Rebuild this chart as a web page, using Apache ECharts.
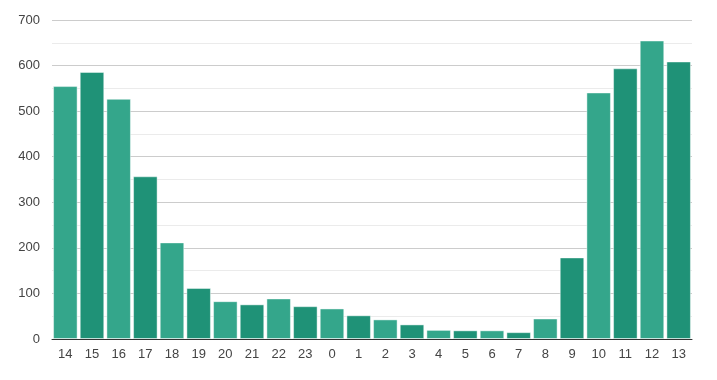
<!DOCTYPE html>
<html><head><meta charset="utf-8">
<script src="https://cdn.jsdelivr.net/npm/echarts@6/dist/echarts.min.js"></script>
<style>html,body{margin:0;padding:0;background:#fff}#c{width:717px;height:380px}</style>
</head><body><div id="c"></div>
<script>
var categories = ['14','15','16','17','18','19','20','21','22','23','0','1','2','3','4','5','6','7','8','9','10','11','12','13'];
var values = [555,586,527,357,212,112,83,76,89,72,67,52,43,32,20,19,19,15,45,179,541,594,655,609];
var colors = ['#34a68b','#1f9277'];
var chart = echarts.init(document.getElementById('c'));
chart.setOption({
  animation:false,
  grid:{left:52,right:25,top:20,bottom:41},
  xAxis:{type:'category',data:categories,
    axisLine:{lineStyle:{color:'#333',width:1}},axisTick:{show:false},
    axisLabel:{color:'#444',fontSize:13,fontFamily:'Arial, Liberation Sans',margin:9}},
  yAxis:{type:'value',min:0,max:700,interval:100,
    axisLine:{show:false},axisTick:{show:false},
    axisLabel:{color:'#444',fontSize:13,fontFamily:'Arial, Liberation Sans',margin:12},
    splitLine:{lineStyle:{color:'#ccc'}},
    minorTick:{show:false,splitNumber:2},
    minorSplitLine:{show:true,lineStyle:{color:'#ebebeb'}}},
  series:[{type:'bar',barCategoryGap:'8%',
    data:values.map(function(v,i){return {value:v,itemStyle:{color:colors[i%2]}};}),
    itemStyle:{borderColor:'rgba(255,255,255,0.45)',borderWidth:1}}]
});
</script></body></html>
